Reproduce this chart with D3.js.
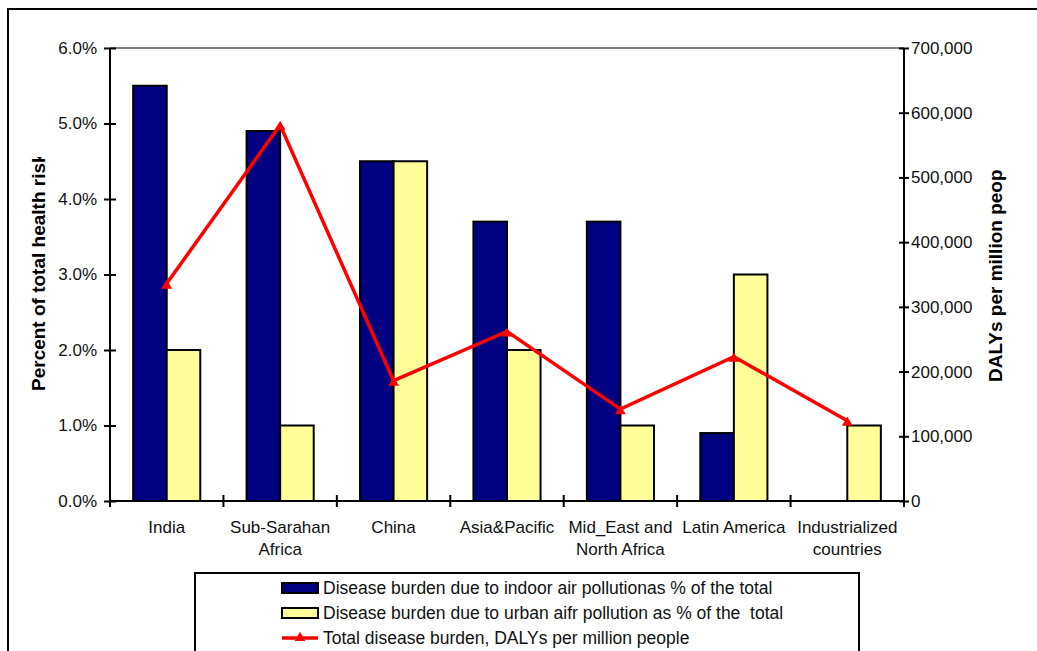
<!DOCTYPE html>
<html>
<head>
<meta charset="utf-8">
<script src="https://cdn.jsdelivr.net/npm/d3@7"></script>
<style>
  body { margin: 0; background: #fff; }
  text { font-family: "Liberation Sans", Arial, sans-serif; }
</style>
</head>
<body>
<script>
// datos
const categories = ["India", "Sub-Sarahan Africa", "China", "Asia&Pacific", "Mid_East and North Africa", "Latin America", "Industrialized countries"];
const categoryLines = [["India"], ["Sub-Sarahan", "Africa"], ["China"], ["Asia&Pacific"], ["Mid_East and", "North Africa"], ["Latin America"], ["Industrialized", "countries"]];
const indoor = [5.5, 4.9, 4.5, 3.7, 3.7, 0.9, 0];
const urban = [2.0, 1.0, 4.5, 2.0, 1.0, 3.0, 1.0];
const dalys = [336000, 581000, 186000, 262000, 142000, 223000, 124000];
const seriesNames = [
  "Disease burden due to indoor air pollutionas % of the total",
  "Disease burden due to urban aifr pollution as % of the  total",
  "Total disease burden, DALYs per million people"
];
const leftTicks = [0, 1, 2, 3, 4, 5, 6];
const rightTicks = [0, 100000, 200000, 300000, 400000, 500000, 600000, 700000];

const width = 1037;
const height = 651;
const plot = {left: 110, right: 904, top: 48, bottom: 501};
const colors = {indoor: "#000080", urban: "#FFFF99", line: "#FF0000"};
const fs = "17px";

const svg = d3.select("body").append("svg")
  .attr("width", width)
  .attr("height", height);

// borde exterior del grafico
svg.append("rect")
  .attr("x", 8).attr("y", 9)
  .attr("width", 1100).attr("height", 700)
  .attr("fill", "white")
  .attr("stroke", "black")
  .attr("stroke-width", 2);

const x0 = d3.scaleBand().domain(categories).range([plot.left, plot.right]).padding(0);
const x1 = d3.scaleBand().domain(["indoor", "urban"]).range([0, x0.bandwidth()]).paddingInner(0).paddingOuter(0.69);
const yLeft = d3.scaleLinear().domain([0, 6]).range([plot.bottom, plot.top]);
const yRight = d3.scaleLinear().domain([0, 700000]).range([plot.bottom, plot.top]);

// borde superior gris del area de trazado
svg.append("line")
  .attr("x1", plot.left).attr("x2", plot.right)
  .attr("y1", plot.top).attr("y2", plot.top)
  .attr("stroke", "#808080").attr("stroke-width", 2);

// barras
const rows = categories.map((c, i) => ({cat: c, indoor: indoor[i], urban: urban[i]}));
const groups = svg.append("g").selectAll("g")
  .data(rows)
  .join("g")
  .attr("transform", d => `translate(${x0(d.cat)},0)`);

groups.selectAll("rect")
  .data(d => ["indoor", "urban"].map(k => ({key: k, value: d[k]})).filter(v => v.value > 0))
  .join("rect")
  .attr("x", d => x1(d.key))
  .attr("y", d => yLeft(d.value))
  .attr("width", x1.bandwidth())
  .attr("height", d => yLeft(0) - yLeft(d.value))
  .attr("fill", d => colors[d.key])
  .attr("stroke", "black")
  .attr("stroke-width", 2);

// eje izquierdo
const axisL = svg.append("g")
  .attr("transform", `translate(${plot.left},0)`)
  .call(d3.axisLeft(yLeft).tickValues(leftTicks).tickFormat(d => d.toFixed(1) + "%").tickSize(6).tickPadding(7));
axisL.select(".domain").attr("d", `M0,${plot.top}V${plot.bottom}`).attr("stroke-width", 2);
axisL.selectAll(".tick line").attr("x1", 6).attr("stroke-width", 2);
axisL.selectAll(".tick text").style("font-size", fs).attr("fill", "#111");

// eje derecho
const axisR = svg.append("g")
  .attr("transform", `translate(${plot.right},0)`)
  .call(d3.axisRight(yRight).tickValues(rightTicks).tickFormat(d3.format(",")).tickSize(5).tickPadding(2));
axisR.select(".domain").attr("d", `M0,${plot.top}V${plot.bottom}`).attr("stroke-width", 2);
axisR.selectAll(".tick line").attr("x1", -5).attr("stroke-width", 2);
axisR.selectAll(".tick text").style("font-size", fs).attr("fill", "#111");

// eje x
const bounds = categories.map(c => x0(c)).concat([plot.right]);
const axisX = svg.append("g");
axisX.append("line")
  .attr("x1", plot.left).attr("x2", plot.right)
  .attr("y1", plot.bottom).attr("y2", plot.bottom)
  .attr("stroke", "black").attr("stroke-width", 2);
axisX.selectAll("line.tk")
  .data(bounds)
  .join("line")
  .attr("class", "tk")
  .attr("x1", d => d).attr("x2", d => d)
  .attr("y1", plot.bottom - 6).attr("y2", plot.bottom + 6)
  .attr("stroke", "black").attr("stroke-width", 2);

axisX.selectAll("text")
  .data(categories)
  .join("text")
  .attr("x", d => x0(d) + x0.bandwidth() / 2)
  .attr("y", 533)
  .attr("text-anchor", "middle")
  .style("font-size", fs)
  .attr("fill", "#111")
  .selectAll("tspan")
  .data((d, i) => categoryLines[i])
  .join("tspan")
  .attr("x", function () { return d3.select(this.parentNode).attr("x"); })
  .attr("dy", (d, i) => i === 0 ? 0 : 22)
  .text(d => d);

// linea DALYs
const line = d3.line()
  .x((d, i) => x0(categories[i]) + x0.bandwidth() / 2)
  .y(d => yRight(d));

svg.append("path")
  .datum(dalys)
  .attr("d", line)
  .attr("fill", "none")
  .attr("stroke", colors.line)
  .attr("stroke-width", 3.5);

const tri = d3.symbol().type(d3.symbolTriangle).size(50);
svg.append("g").selectAll("path")
  .data(dalys)
  .join("path")
  .attr("d", tri)
  .attr("transform", (d, i) => `translate(${x0(categories[i]) + x0.bandwidth() / 2},${yRight(d) + 2})`)
  .attr("fill", colors.line);

// titulos de los ejes (recortados como en el original)
const defs = svg.append("defs");
defs.append("clipPath").attr("id", "clipL")
  .append("rect").attr("x", 0).attr("y", 157).attr("width", 80).attr("height", 400);
defs.append("clipPath").attr("id", "clipR")
  .append("rect").attr("x", 970).attr("y", 169).attr("width", 60).attr("height", 400);

svg.append("g")
  .attr("clip-path", "url(#clipL)")
  .append("text")
  .attr("transform", "translate(45,391) rotate(-90)")
  .style("font-size", "19px")
  .style("font-weight", "bold")
  .text("Percent of total health risk");

svg.append("g")
  .attr("clip-path", "url(#clipR)")
  .append("text")
  .attr("transform", "translate(1002,382) rotate(-90)")
  .style("font-size", "19px")
  .style("font-weight", "bold")
  .text("DALYs per million people");

// leyenda
const legend = svg.append("g");
legend.append("rect")
  .attr("x", 195).attr("y", 573)
  .attr("width", 664).attr("height", 200)
  .attr("fill", "white")
  .attr("stroke", "black").attr("stroke-width", 2);

const items = legend.selectAll("g.item")
  .data(seriesNames)
  .join("g")
  .attr("class", "item")
  .attr("transform", (d, i) => `translate(282,${588 + i * 25})`);

items.filter((d, i) => i < 2).append("rect")
  .attr("x", 0).attr("y", -5)
  .attr("width", 36).attr("height", 10)
  .attr("fill", (d, i) => i === 0 ? colors.indoor : colors.urban)
  .attr("stroke", "black").attr("stroke-width", 2);

items.filter((d, i) => i === 2).append("line")
  .attr("x1", 0).attr("x2", 36)
  .attr("y1", 0).attr("y2", 0)
  .attr("stroke", colors.line).attr("stroke-width", 3.5);
items.filter((d, i) => i === 2).append("path")
  .attr("d", tri)
  .attr("transform", "translate(18,0)")
  .attr("fill", colors.line);

items.append("text")
  .attr("x", 41).attr("y", 0)
  .attr("dy", "0.35em")
  .style("font-size", "17.5px")
  .style("white-space", "pre")
  .attr("fill", "#111")
  .text(d => d);
</script>
</body>
</html>
